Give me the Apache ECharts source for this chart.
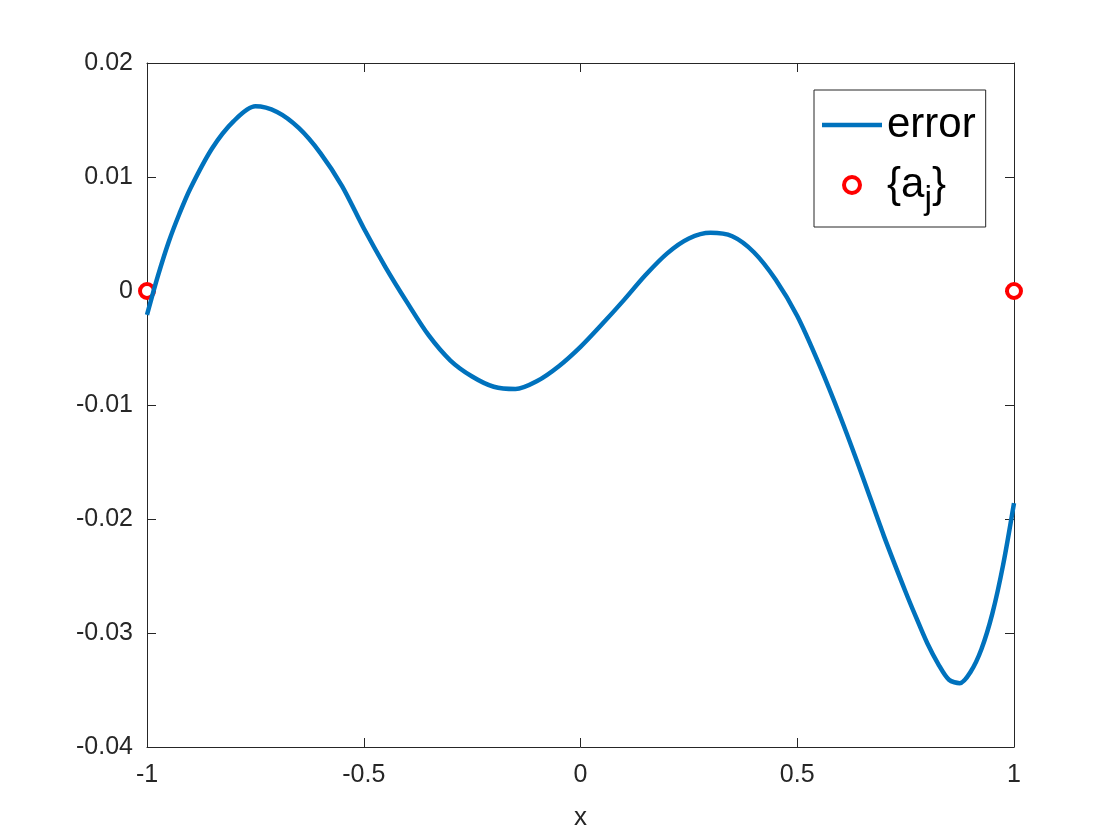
<!DOCTYPE html>
<html style="height: 100%">
<head>
    <meta charset="utf-8">
</head>
<body style="height: 100%; margin: 0; background: #fff">
    <div id="container" style="width: 1120px; height: 840px"></div>

    <script type="text/javascript" src="https://cdn.jsdelivr.net/npm/echarts@6/dist/echarts.min.js"></script>
    <script type="text/javascript">
        // error curve (denser where it bends hard)
        var xs = [-1, -0.975, -0.95, -0.925, -0.9, -0.85, -0.8, -0.75, -0.7, -0.65, -0.6, -0.55,
                  -0.5, -0.45, -0.4, -0.35, -0.3, -0.25, -0.2, -0.15, -0.1, -0.05,
                  0, 0.05, 0.1, 0.15, 0.2, 0.25, 0.3, 0.35, 0.4, 0.45,
                  0.5, 0.55, 0.6, 0.65, 0.7, 0.75, 0.775, 0.8, 0.825, 0.85, 0.875,
                  0.9, 0.925, 0.95, 0.975, 1];
        var errs = [-0.0021, 0.0013, 0.0043, 0.0068, 0.0090, 0.0125, 0.0149, 0.0162, 0.0157, 0.0143, 0.0121, 0.0092,
                    0.0055, 0.0021, -0.0010, -0.0039, -0.0061, -0.0075, -0.0084, -0.0086, -0.0079, -0.0066,
                    -0.0049, -0.0029, -0.0008, 0.0014, 0.0033, 0.0046, 0.0051, 0.0048, 0.0034, 0.0010,
                    -0.0022, -0.0064, -0.0111, -0.0162, -0.0215, -0.0264, -0.0287, -0.0309, -0.0327, -0.0341, -0.0344,
                    -0.0334, -0.0314, -0.0283, -0.0240, -0.0186];
        // the points {a_j}
        var ajX = [-1, 1];
        var ajY = [0, 0];

        var xTicks = {min: -1, max: 1, interval: 0.5};
        var yTicks = {min: -0.04, max: 0.02, interval: 0.01};

        var dom = document.getElementById("container");
        var myChart = echarts.init(dom);
        var font = 'Arial, "Liberation Sans", Helvetica, sans-serif';
        var axisCol = '#262626';
        var blue = '#0072BD';
        var red = '#FF0000';

        var lineData = xs.map(function (x, i) { return [x, errs[i]]; });
        var ajData = ajX.map(function (x, i) { return [x, ajY[i]]; });

        function fmt(v) {
            return String(Math.round(v * 1000) / 1000);
        }

        var baseAxis = {
            type: 'value',
            axisLine: {show: true, onZero: false, lineStyle: {color: axisCol, width: 1}},
            axisTick: {show: true, inside: true, length: 9, lineStyle: {color: axisCol}},
            splitLine: {show: false}
        };

        var option = {
            animation: false,
            backgroundColor: '#fff',
            grid: {left: 147, right: 106, top: 63, bottom: 93},
            xAxis: [
                Object.assign({}, baseAxis, {
                    min: xTicks.min, max: xTicks.max, interval: xTicks.interval,
                    position: 'bottom',
                    name: 'x', nameLocation: 'middle', nameGap: 58,
                    nameTextStyle: {color: axisCol, fontSize: 26, fontFamily: font},
                    axisLabel: {color: axisCol, fontSize: 25, fontFamily: font, margin: 16, formatter: fmt}
                }),
                Object.assign({}, baseAxis, {
                    min: xTicks.min, max: xTicks.max, interval: xTicks.interval,
                    position: 'top', axisLabel: {show: false}
                })
            ],
            yAxis: [
                Object.assign({}, baseAxis, {
                    min: yTicks.min, max: yTicks.max, interval: yTicks.interval,
                    position: 'left',
                    axisLabel: {color: axisCol, fontSize: 25, fontFamily: font, margin: 14, formatter: fmt}
                }),
                Object.assign({}, baseAxis, {
                    min: yTicks.min, max: yTicks.max, interval: yTicks.interval,
                    position: 'right', axisLabel: {show: false}
                })
            ],
            legend: {
                orient: 'vertical',
                left: 814, top: 90,
                padding: [14, 10, 10, 8],
                itemGap: 18,
                itemWidth: 60, itemHeight: 16,
                backgroundColor: '#fff',
                borderColor: axisCol, borderWidth: 1,
                textStyle: {
                    color: '#000', fontSize: 42, fontFamily: font,
                    rich: {
                        s: {fontSize: 34, fontFamily: font, color: '#000', padding: [30, 0, 0, 0]}
                    }
                },
                formatter: function (name) {
                    return name === 'aj' ? '{a{s|j}}' : name;
                },
                data: [
                    {name: 'error', icon: 'path://M0,0H60V4.5H0Z', itemStyle: {color: blue, borderWidth: 0}},
                    {name: 'aj', icon: 'circle', itemStyle: {color: '#fff', borderColor: red, borderWidth: 4}}
                ]
            },
            series: [
                {
                    name: 'error',
                    type: 'line',
                    data: lineData,
                    smooth: 0.3,
                    showSymbol: false,
                    symbol: 'none',
                    lineStyle: {color: blue, width: 4.5},
                    itemStyle: {color: blue}
                },
                {
                    name: 'aj',
                    type: 'scatter',
                    data: ajData,
                    symbol: 'circle',
                    symbolSize: 14,
                    clip: false,
                    itemStyle: {color: '#fff', borderColor: red, borderWidth: 4, opacity: 1}
                }
            ]
        };
        myChart.setOption(option);
    </script>
</body>
</html>
